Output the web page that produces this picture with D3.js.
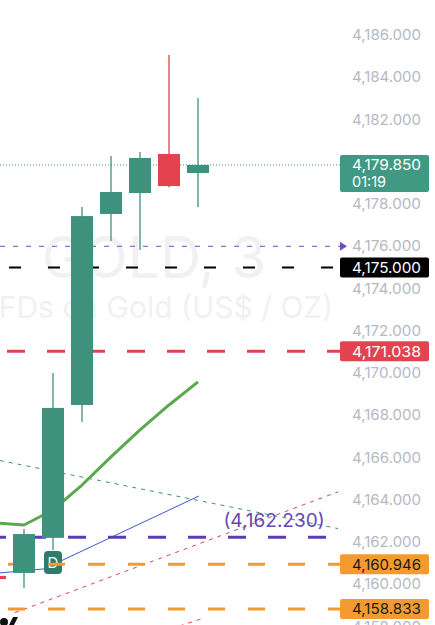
<!DOCTYPE html>
<html>
<head>
<meta charset="utf-8">
<script src="https://cdn.jsdelivr.net/npm/d3@7"></script>
<style>
  html, body { margin: 0; padding: 0; background: #ffffff; }
  svg { display: block; font-family: Inter, "Open Sans", sans-serif; }
</style>
</head>
<body>
<svg id="chart" width="435" height="625"></svg>
<script>
// ---- data ----
const categories = ["10:36", "10:39", "10:42", "10:45", "10:48", "10:51", "10:54", "10:57"];
const openV  = [4160.40, 4160.54, 4162.20, 4168.49, 4177.53, 4178.52, 4180.37, 4179.47];
const highV  = [4161.00, 4162.62, 4170.00, 4177.86, 4180.27, 4180.46, 4185.05, 4183.02];
const lowV   = [4159.60, 4159.83, 4161.63, 4167.68, 4176.25, 4175.82, 4178.80, 4177.86];
const closeV = [4160.25, 4162.38, 4168.35, 4177.43, 4178.57, 4180.18, 4178.85, 4179.85];
const maV    = [4162.91, 4162.81, 4163.52, 4164.70, 4166.03, 4167.31, 4168.49, 4169.58];

// 4,180 is hidden behind the current-price label, as in the reference
const tickValues = [4158, 4160, 4162, 4164, 4166, 4168, 4170, 4172, 4174, 4176, 4178, 4182, 4184, 4186];

const currentPrice = 4179.85;
const countdown = "01:19";
const alertLevel = 4176.0;
const blackLevel = 4175.0;
const redLevel = 4171.038;
const purpleLevel = 4162.23;
const orangeLevels = [4160.946, 4158.833];

// trend lines: [candle index, price] pairs
const tealTrend = [[0.17, 4165.86], [11.83, 4162.64]];
const redTrendA = [[0.69, 4158.66], [11.83, 4164.38]];
const redTrendB = [[4.3, 4157.10], [7.1, 4158.36]];
const blueTrend = [[0.17, 4160.54], [1.69, 4160.73], [7.03, 4164.18]];

const markerCandle = [2];
const markerText = ["D"];

const title = "GOLD, 3";
const subtitle = "CFDs on Gold (US$ / OZ)";

// ---- layout ----
const W = 435, H = 625;
const paneRight = 340;
const upColor = "#3e917c", downColor = "#e2434e";
const labelW = 69;

const svg = d3.select("#chart");

const y = d3.scaleLinear().domain([4158, 4186]).range([626.6, 35]);
const x = d3.scaleBand().domain(categories).range([-19.5, 212.5]).paddingInner(0.24).paddingOuter(0.12);
const bw = x.bandwidth();
const cx = c => x(c) + bw / 2;
const xi = d3.scaleLinear().domain([0, 1]).range([cx(categories[0]), cx(categories[1])]);

const candles = categories.map((c, i) => ({c, o: openV[i], h: highV[i], l: lowV[i], cl: closeV[i]}));

svg.append("defs").append("clipPath").attr("id", "pane")
  .append("rect").attr("x", 0).attr("y", 0).attr("width", paneRight).attr("height", H);

const pane = svg.append("g").attr("clip-path", "url(#pane)");

// watermark
pane.append("text").attr("x", 154).attr("y", 278).attr("text-anchor", "middle")
  .attr("font-size", 57).attr("fill", "#f0f1f3").text(title);
pane.append("text").attr("x", 155).attr("y", 318).attr("text-anchor", "middle")
  .attr("font-size", 30).attr("fill", "#f0f1f3").text(subtitle);

const tl = d3.line().x(d => xi(d[0])).y(d => y(d[1]));

// trend lines
pane.append("path").attr("d", tl(tealTrend)).attr("fill", "none")
  .attr("stroke", "#3e8f7a").attr("stroke-width", 1).attr("stroke-dasharray", "4,5");
pane.append("path").attr("d", tl(redTrendA)).attr("fill", "none")
  .attr("stroke", "#e2434e").attr("stroke-width", 1).attr("stroke-dasharray", "4,5");
pane.append("path").attr("d", tl(redTrendB)).attr("fill", "none")
  .attr("stroke", "#e2434e").attr("stroke-width", 1).attr("stroke-dasharray", "4,5");
pane.append("path").attr("d", tl(blueTrend)).attr("fill", "none")
  .attr("stroke", "#3e56d6").attr("stroke-width", 1);

// marker
markerCandle.forEach((mi, k) => {
  const c = categories[mi];
  const top = y(lowV[mi]) + 1;
  pane.append("rect").attr("x", x(c) + 2).attr("y", top).attr("width", bw - 4).attr("height", 23)
    .attr("rx", 4).attr("fill", "#2f7c6c");
  pane.append("text").attr("x", cx(c)).attr("y", top + 17).attr("text-anchor", "middle")
    .attr("font-size", 15).attr("fill", "#ffffff").text(markerText[k]);
});

// horizontal levels
function hline(v, color, width, dash, x0) {
  pane.append("line").attr("x1", x0 || 0).attr("x2", paneRight)
    .attr("y1", y(v)).attr("y2", y(v))
    .attr("stroke", color).attr("stroke-width", width).attr("stroke-dasharray", dash);
}
hline(currentPrice, upColor, 1, "1,2");
hline(alertLevel, "#6b4fc0", 1, "5,8");
hline(blackLevel, "#000000", 2, "12,27", 9);
hline(redLevel, "#e2434e", 3, "18,22", 7);
hline(purpleLevel, "#5a3db3", 3, "18,22", -12);
orangeLevels.forEach(v => hline(v, "#f29a30", 3, "17,23", 8));

// purple level label
pane.append("text").attr("x", 274).attr("y", y(purpleLevel) - 10).attr("text-anchor", "middle")
  .attr("font-size", 19).attr("fill", "#6447b8").text("(" + d3.format(",.3f")(purpleLevel) + ")");

// MA line
pane.append("path").datum(maV)
  .attr("d", d3.line().x((d, i) => cx(categories[i])).y(d => y(d)))
  .attr("fill", "none").attr("stroke", "#5aa94e").attr("stroke-width", 3).attr("stroke-linejoin", "round");

// candles
const cg = pane.append("g").selectAll("g").data(candles).join("g");
cg.append("line").attr("x1", d => cx(d.c)).attr("x2", d => cx(d.c))
  .attr("y1", d => y(d.h)).attr("y2", d => y(d.l))
  .attr("stroke", d => d.cl >= d.o ? upColor : downColor).attr("stroke-width", 1.3);
cg.append("rect").attr("x", d => x(d.c)).attr("width", bw)
  .attr("y", d => y(Math.max(d.o, d.cl)))
  .attr("height", d => Math.max(1.5, Math.abs(y(d.o) - y(d.cl))))
  .attr("fill", d => d.cl >= d.o ? upColor : downColor);

// alert arrow
svg.append("path")
  .attr("d", d3.line()([[340, y(alertLevel) - 4.5], [347, y(alertLevel)], [340, y(alertLevel) + 4.5]]) + "Z")
  .attr("fill", "#6b4fc0");

// logo fragment bottom-left
svg.append("circle").attr("cx", 4).attr("cy", 622).attr("r", 4).attr("fill", "#111");
svg.append("path").attr("d", "M9,625 L13,617 L18,617 L14,625 Z").attr("fill", "#111");

// axis
const fmt = d3.format(",.3f");
const axis = svg.append("g").attr("transform", `translate(421,0)`)
  .call(d3.axisRight(y).tickValues(tickValues).tickFormat(fmt).tickSize(0).tickPadding(0));
axis.select(".domain").remove();
axis.selectAll("text").attr("text-anchor", "end").attr("x", 0)
  .attr("font-family", "Inter, sans-serif").attr("font-size", 14.5).attr("fill", "#b6b9c1")
  .attr("textLength", labelW).attr("lengthAdjust", "spacingAndGlyphs");

// price boxes
function box(v, bg, fg, label, h) {
  const g = svg.append("g");
  const top = y(v) - 10;
  g.append("rect").attr("x", 340).attr("y", top).attr("width", 89).attr("height", h || 20)
    .attr("rx", 2).attr("fill", bg);
  g.append("text").attr("x", 421 - labelW).attr("y", y(v) + 5.5)
    .attr("font-size", 14.5).attr("fill", fg)
    .attr("textLength", labelW).attr("lengthAdjust", "spacingAndGlyphs").text(label);
  return g;
}
const cb = box(currentPrice, "#3f9983", "#ffffff", fmt(currentPrice), 37);
cb.append("text").attr("x", 352).attr("y", y(currentPrice) + 22)
  .attr("font-size", 14.5).attr("fill", "#ffffff").text(countdown);
box(blackLevel, "#000000", "#ffffff", fmt(blackLevel));
box(redLevel, "#e2434e", "#ffffff", fmt(redLevel));
orangeLevels.forEach(v => box(v, "#f39b30", "#1b1b1b", fmt(v)));
</script>
</body>
</html>
